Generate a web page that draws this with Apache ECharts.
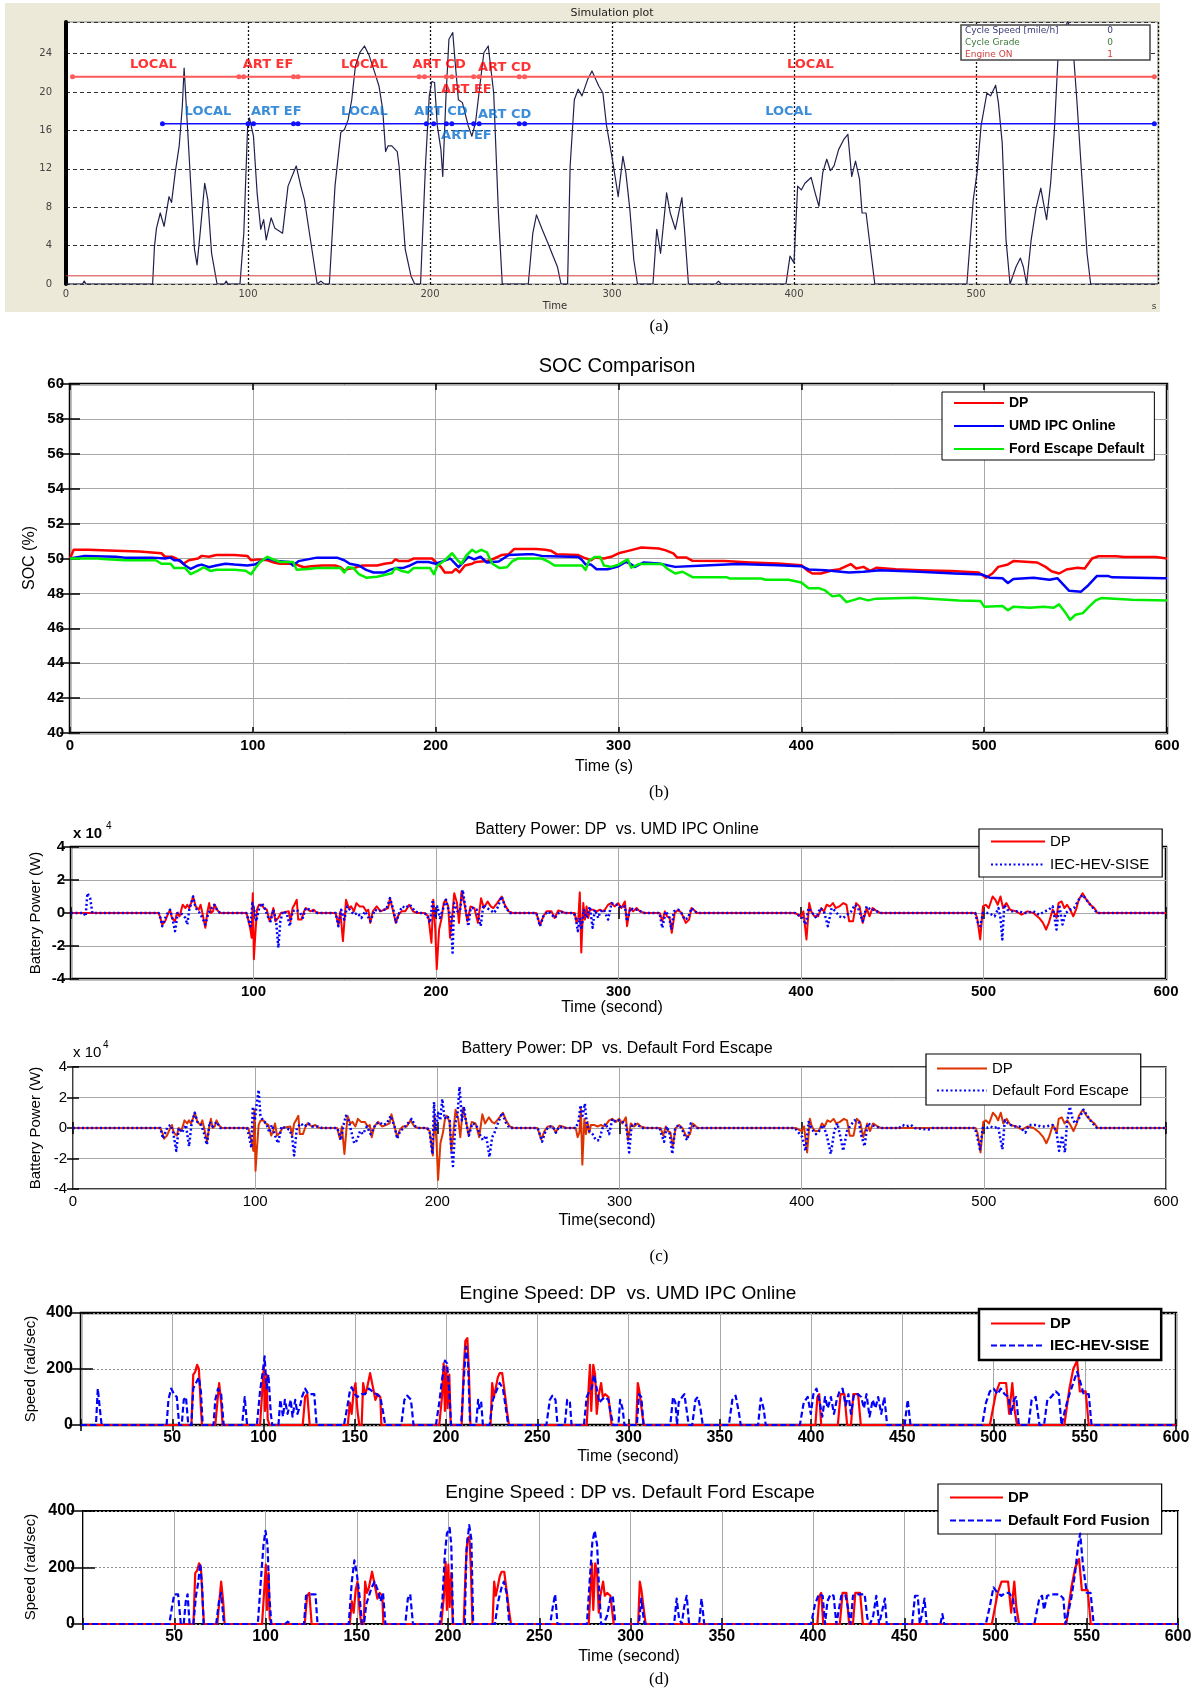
<!DOCTYPE html>
<html><head><meta charset="utf-8">
<script src="https://cdn.jsdelivr.net/npm/echarts@6/dist/echarts.min.js"></script>
<style>html,body{margin:0;padding:0;background:#fff}#c{width:1198px;height:1692px}</style>
</head><body><div id="c"></div>
<script>
// ---------------- (a) Simulation plot: cycle speed [mile/h] vs time [s]
const cycleSpeed = [[0,0],[9,0],[10,0.3],[11,0],[47.6,0],[48.6,3.9],[49.7,5.8],[51.8,7.4],[53.9,6],[56.6,9.1],[58,8.5],[60,11.6],[62.2,14.4],[63.9,18.5],[64.9,22.5],[66.4,17.5],[68.5,10.5],[70.6,3.6],[72,2],[73.7,5.3],[76.2,10.5],[77.9,8.8],[80,3.2],[83,0],[87,0],[88,0.3],[89,0],[95.6,0],[97.7,5.3],[99.8,16.5],[100.8,17.3],[103,15.4],[105,9.5],[107,5.7],[108.6,6.7],[110,4.6],[112.7,6.9],[114.8,5.8],[119,5.3],[122,10.2],[126.5,12.3],[129,10.2],[131,8.8],[134,5],[138,0],[140,0.3],[142,0],[144.7,0],[147.8,10.2],[151,15.8],[153,16.1],[155,17.1],[157,19.2],[159,22.7],[161.4,24.1],[164,24.8],[166.6,23.8],[169.7,22],[172,20.6],[174,18.2],[175.6,13.8],[177,14.4],[179,14.4],[182,13.8],[183,12.3],[186.4,3.6],[189.6,0.8],[191.6,0],[194.8,0],[197.5,12.3],[199.6,19.6],[201,21.1],[202.5,21],[204,16.5],[206,14],[207,11.2],[208.7,19.2],[210.4,25.5],[212.5,26.2],[214,22.7],[215.6,19.2],[217.8,18.9],[221,16.5],[223,15.4],[225,16.8],[227.6,21],[229.6,24.1],[232,24.8],[235,19.9],[237.6,7.4],[239.7,0],[254,0],[256.5,5.3],[258.5,7.2],[261.6,5.7],[264.7,4.3],[267,3.2],[270,1.8],[272,0],[275.6,0],[277,12.3],[279.3,19.2],[281.4,20.3],[283.5,19.6],[286.6,21.3],[289,22.2],[292.8,20.6],[295,19.9],[297,16.5],[300.2,13],[301.7,11.2],[303.4,9.1],[306,13.3],[307.6,11.6],[309.8,7.8],[312,2.5],[314,0],[322.5,0],[324.6,5.7],[326.7,3.2],[330,9.5],[332,7.4],[334.8,5.7],[338.4,9],[340,5.3],[342,0],[357,0],[358.5,0.3],[360,0],[395.6,0],[397.8,2.9],[400,2.2],[402,10.2],[404,9.8],[406,10.5],[409.4,11.1],[411.6,9.5],[413.7,8.1],[415.8,11.6],[418,13],[420,11.8],[422,12.3],[424.5,14],[427.5,15.1],[429.6,15.6],[431.7,11.2],[433.8,12.8],[436,10.9],[437.4,7.4],[439.6,7.4],[442.3,3.2],[444.4,0],[495,0],[498.5,8.8],[500.6,11.6],[502.8,16.5],[506,19.9],[508,19.6],[510.8,20.7],[512.3,18.9],[514.4,14.7],[516.5,4.6],[518.7,0],[522,1.8],[524.4,2.7],[526,1.8],[527.8,0],[530.3,4.6],[532.9,7.8],[535.6,10],[537.7,7.8],[538.8,6.7],[541,10.5],[543,15.8],[545,23.4],[548.4,26.5],[550.5,27.4],[553,25.5],[555.4,19.2],[558,11.6],[561,3.2],[563,0],[600,0]];
const engineOnLevel = 0.85;
const redRowLevel = 21.6;
const blueRowLevel = 16.7;
const redSegTimes = [3.6,95,97.6,125,127.5,194,197,209,212,224,227,249,252,598];
const blueSegTimes = [53,100,103,125,127.5,198,202,209,212,224,227,249,252,598];
const redSegLabels = [[48,22.9,'LOCAL'],[111,22.9,'ART EF'],[164,22.9,'LOCAL'],[205,22.9,'ART CD'],[241,22.5,'ART CD'],[220,20.3,'ART EF'],[409,22.9,'LOCAL']];
const blueSegLabels = [[78,18,'LOCAL'],[115.5,18,'ART EF'],[164,18,'LOCAL'],[206,18,'ART CD'],[241,17.6,'ART CD'],[220,15.45,'ART EF'],[397,18,'LOCAL']];
const legendARows = ['Cycle Speed [mile/h]','Cycle Grade','Engine ON'];
const legendAValues = ['0','0','1'];

// ---------------- (b) SOC comparison [%]
const socDP = [[0,50],[2,50.5],[10,50.5],[11,50.45],[25,50.45],[26,50.4],[38,50.4],[39,50.3],[50,50.3],[52,50.1],[56,50.1],[58,50.0],[62,49.7],[65,49.9],[70,50.0],[72,50.15],[76,50.1],[80,50.2],[90,50.2],[97,50.15],[99,49.9],[100,49.8],[103,49.95],[108,49.9],[112,49.75],[115,49.7],[123,49.7],[125,49.6],[128,49.5],[132,49.55],[138,49.6],[145,49.6],[148,49.5],[150,49.3],[152,49.4],[155,49.45],[160,49.6],[168,49.6],[172,49.7],[176,49.75],[178,49.95],[180,49.85],[185,49.85],[188,50.0],[198,50.0],[200,49.8],[203,49.5],[205,49.2],[209,49.2],[211,49.4],[213,49.2],[216,49.6],[220,49.7],[222,49.8],[228,49.85],[232,50.0],[236,50.2],[240,50.25],[243,50.55],[255,50.55],[260,50.5],[263,50.45],[266,50.25],[278,50.2],[281,50.05],[285,49.9],[287,50.05],[292,50.0],[296,50.1],[300,50.3],[307,50.48],[312.5,50.63],[322,50.57],[325.5,50.48],[330,50.29],[332,50.06],[337,50.06],[340.5,49.87],[358,49.85],[372,49.77],[387,49.71],[400,49.62],[403,49.33],[406,49.14],[410.7,49.14],[417,49.33],[421,49.39],[427,49.68],[430,49.43],[434,49.52],[437.6,49.29],[441,49.47],[451.6,49.39],[464.6,49.33],[482,49.29],[497,49.2],[501,48.9],[504.5,49.14],[507.7,49.52],[513,49.66],[516,49.85],[529,49.77],[533.6,49.52],[536.8,49.27],[541,49.14],[545,49.37],[551,49.47],[555,49.43],[559,50.0],[562.5,50.13],[572,50.13],[576.7,50.08],[594,50.08],[600,50.0]];
const socUMD = [[0,50],[8,50.15],[25,50.1],[30,50.05],[45,50.05],[52,50.0],[55,50.05],[57,49.9],[60,49.9],[63,49.6],[66,49.4],[70,49.6],[72,49.65],[76,49.5],[80,49.6],[85,49.7],[90,49.65],[97,49.6],[101,49.65],[107,50.0],[110,49.95],[113,49.85],[120,49.8],[122,49.6],[125,49.85],[130,49.95],[135,50.05],[146,50.05],[150,49.9],[153,49.7],[158,49.6],[162,49.35],[166,49.2],[172,49.2],[175,49.35],[178,49.45],[182,49.45],[186,49.6],[190,49.8],[196,49.8],[200,49.7],[204,49.85],[208,50.0],[212.5,49.5],[218,50.1],[221,49.95],[224.5,50.1],[228,49.77],[234.5,49.83],[240,50.2],[250,50.25],[253,50.25],[258,50.15],[278,50.08],[280,49.92],[282,49.65],[285,49.65],[288,49.38],[294,49.38],[300,49.56],[304,49.81],[306,49.72],[309,49.52],[313.6,49.77],[322,49.71],[331,49.52],[344,49.58],[365,49.68],[387,49.62],[400,49.56],[404,49.37],[413,49.33],[426,49.2],[434,49.24],[443,49.33],[464.6,49.24],[484,49.14],[499,49.08],[503,48.9],[510,48.87],[513,48.6],[516,48.83],[527,48.9],[535.8,48.78],[540,48.87],[546.5,48.15],[553,48.1],[557,48.47],[561.6,48.99],[568,48.99],[570,48.92],[598,48.87],[600,48.87]];
const socFord = [[0,50],[15,50],[20,49.95],[30,49.9],[47,49.9],[50,49.7],[55,49.7],[57,49.45],[63,49.45],[66,49.1],[70,49.3],[73,49.5],[77,49.28],[80,49.35],[90,49.35],[96,49.3],[99,49.1],[101,49.4],[104,49.8],[108,50.1],[111,49.95],[115,49.8],[122,49.8],[124,49.35],[130,49.4],[135,49.45],[148,49.45],[150,49.2],[152,49.5],[155,49.45],[158,49.1],[162,48.9],[168,48.95],[172,49.05],[176,49.15],[178,49.45],[181,49.3],[185,49.2],[188,49.45],[197,49.45],[199,49.1],[201,49.6],[205,49.9],[209,50.3],[212,49.9],[214,49.7],[217,50.2],[220,50.5],[222,50.35],[225,50.5],[228,50.35],[231,49.7],[235,49.45],[239,49.5],[242,49.85],[245,50.0],[258,50.0],[262,49.8],[265,49.6],[280,49.6],[282,49.35],[284,49.9],[287,50.08],[290,50.08],[292,49.6],[296,49.52],[300,49.65],[305,49.95],[307,49.47],[311,49.68],[324,49.68],[326.5,49.43],[331,49.14],[335,49.24],[340.5,48.93],[359,48.93],[361,48.85],[378,48.85],[380.5,48.78],[393,48.78],[400,48.63],[404,48.3],[409.6,48.3],[413,48.17],[417,47.83],[421,47.9],[424.7,47.5],[432,47.73],[436.5,47.6],[441,47.7],[462,47.75],[486,47.6],[498,47.56],[500,47.24],[510,47.28],[513,47.03],[516,47.24],[525,47.18],[532.6,47.24],[538,47.18],[541,47.37],[544.6,46.87],[547,46.49],[550,46.78],[554,46.87],[557,47.2],[561,47.6],[564,47.73],[581,47.64],[600,47.6]];

// ---------------- (c) Battery power [x 10^4 W]
const powDP = [[0,0],[48,0],[49,-0.3],[50,-0.7],[51.6,-0.5],[53,-0.1],[54.3,0.2],[55.3,-0.3],[57,-0.5],[58,0],[59.5,-0.2],[61.2,0.5],[62.7,0.3],[63.7,0.5],[64.8,0.3],[65.8,0.6],[66.9,1.0],[68.3,0.4],[70,0.2],[71,0.5],[72,0],[73.6,-0.9],[74.8,0.1],[75.7,0.6],[76.7,0],[77.8,0.1],[78.8,0.5],[80,0.2],[81.5,0],[96.2,0],[97.3,-0.5],[98.3,-1.0],[99,-1.5],[99.6,1.2],[100.2,-2.8],[101,-1.3],[101.9,0.2],[103,0.5],[104.6,0.5],[105.7,0.3],[107.3,0.2],[108.8,-0.5],[109.8,-0.2],[110.9,0.3],[112,-0.5],[113.6,-0.3],[115,0],[119.3,0.1],[120.3,-0.5],[121.4,0.3],[122.4,0.5],[123.7,0.8],[124.5,-0.4],[126.2,-0.4],[127.7,0.1],[128.7,0.3],[130,0.2],[131.2,0.1],[133,0.2],[134.2,0.05],[136,0],[145,0],[146.5,-0.7],[147.6,0.1],[149,-1.7],[150.7,0.8],[152.2,0.3],[153.5,0.4],[155,0.1],[156.4,0.6],[158.1,0.4],[160.2,0.4],[161.8,0.1],[162.9,0.2],[164,-0.6],[165.4,0.1],[167.5,0.4],[169.6,0.1],[171.7,0.2],[173.8,0.3],[174.8,0.9],[176.5,0.1],[178,-0.6],[179.5,-0.1],[181.1,0.1],[183.2,0.1],[185.3,0.5],[187.4,0.1],[189.5,0],[193.7,0],[195.8,-0.2],[197.5,-1.8],[198.5,0.8],[199.6,-1.0],[200.4,-3.4],[201.7,-1.0],[203.1,-0.3],[204.2,0.6],[205.2,0.8],[206.7,0.4],[207.7,-1.5],[208.8,-0.3],[210,1.2],[211.5,0.6],[212.6,-0.6],[214,1.3],[215.7,0.5],[217.2,-0.5],[218.9,0.4],[221,0.3],[223,-0.6],[224.7,0.9],[226.2,0.3],[228.3,0.7],[230,0.4],[231.4,0.3],[233.5,0.6],[236,1.0],[237.7,0.5],[239.8,0.1],[241.9,0],[255,0],[257,-0.75],[258.8,-0.2],[260.6,0.1],[263.3,0.1],[265,-0.3],[267,0.15],[268.8,0.1],[270.6,0],[276,0],[277,-0.6],[278,-0.3],[278.8,1.25],[279.6,-2.4],[280.7,0.6],[281.6,-0.4],[282.5,0.4],[283.4,-0.3],[284.3,0.2],[286,0.2],[288,0.1],[289.8,0.2],[291.2,0.1],[292.5,0.2],[294.3,0.5],[296,0.6],[298,0.4],[299.8,0.6],[301.6,0.3],[303.5,0.7],[304.7,-0.8],[306.2,0.3],[308,0.1],[309.9,0.3],[311.7,0.1],[314.4,0],[322.6,0],[324,-0.5],[325.4,0.1],[326.6,-0.2],[328,-0.3],[329.2,-1.2],[330.8,0],[332.7,0.2],[334.5,0],[336.9,-0.6],[338.7,-0.4],[340,0.3],[341.2,0.2],[342.7,0],[396.7,0],[400,-0.2],[401.3,0.1],[403,-1.6],[404.5,0.6],[405.6,0.1],[407.3,-0.2],[409.4,-0.2],[411.1,0.3],[412.6,0.1],[414.1,0.5],[415.8,0.4],[417.5,0.6],[419,0.3],[421,0.4],[423.2,0.6],[424.9,0.5],[426.4,-0.5],[428.5,-0.5],[430.2,0.6],[432.1,0.4],[433.8,-0.6],[436,0.3],[437.5,-0.2],[439.2,0.3],[441.7,0.1],[443.4,0],[495.5,0],[496.5,-0.3],[498.2,-1.6],[499.7,0.4],[501.2,0.5],[502.9,0.3],[505,1.0],[506.5,0.8],[507.8,0.5],[509.3,1.0],[510.7,0.3],[512.5,0.6],[514.6,0.2],[517.8,0.1],[520.9,-0.1],[524.1,0.1],[527.3,0],[530.5,-0.3],[532.6,-0.6],[534.3,-1.0],[535.8,-0.6],[537.9,0.2],[540,-0.3],[541.1,0.6],[542.8,0.7],[544.3,0.3],[545.8,0.5],[547.5,0.2],[549.2,-0.2],[550.7,0.2],[552.2,0.8],[554.3,1.2],[556.4,0.8],[558.6,0.5],[560.7,0.3],[562.4,0],[600,0]];
const powIEC = [[0,0],[7,0],[8,-0.2],[9,1.2],[10.5,0.9],[11.7,0],[48,0],[49,-0.3],[50,-0.8],[51.6,-0.3],[53,0],[54.3,0.2],[55.5,-0.3],[57,-1.1],[58.5,0],[60,0],[61.2,-0.1],[62.7,-0.3],[63.7,-0.7],[64.8,0.2],[66.9,1.0],[68.3,0.3],[70,0.1],[72,-0.3],[73.6,-0.7],[75.3,0],[78.4,0.5],[80.5,0.1],[82,0],[96,0],[96.9,-0.3],[98.3,-0.8],[99.4,0.6],[100.4,0.2],[101.5,-0.5],[103.1,0.3],[104.6,0.6],[106.1,0.3],[107.8,-0.2],[109.4,-0.5],[110.9,0.2],[112.4,-0.5],[113.6,-2.1],[114.7,-0.5],[116.1,0.1],[118.2,0],[119.9,-0.8],[121.4,0.1],[123.5,0.2],[125.6,0],[127,-0.3],[128.7,0.3],[130.8,0.2],[133,0.1],[135,0],[145,0],[146.5,-0.8],[148,0.2],[149.7,-0.4],[151.4,0.4],[152.8,0.2],[155,-0.1],[157,0],[159.1,-0.3],[161.2,0.1],[164,-0.5],[166.5,0.2],[168.6,0.1],[170.7,0.2],[172.7,0.2],[174.8,0.9],[176.9,0.1],[178,-0.6],[180.1,0.1],[181.6,0.4],[183.2,0.3],[185.7,0.5],[188.5,0.1],[190.6,0],[193.5,0],[194.9,-0.1],[196.7,-0.6],[198.2,0.8],[199.5,-0.3],[200.7,0.4],[202.2,-0.3],[204,0.3],[205.5,0.8],[206.8,0.2],[208,-0.2],[209.1,-2.4],[209.9,0.6],[211.7,0.1],[213.1,0.1],[214.6,1.4],[215.9,0.5],[217.7,-0.8],[219,0.3],[220.4,0.3],[222.3,0.2],[224.5,-0.8],[225.9,0.5],[227.7,0.3],[229.6,0.2],[231.8,0],[233.6,0.3],[236,1.0],[237.8,0.4],[240.5,0],[255,0],[257,-0.8],[258.8,-0.2],[261.5,0.1],[265.1,-0.3],[267.9,0.1],[270.6,0],[275.5,0],[276.6,-0.3],[277.7,-1.1],[278.8,-0.3],[279.7,-1.0],[281,0.2],[282.5,-0.3],[284.3,0.4],[285.8,-0.9],[287,0.2],[288.9,-0.3],[290.1,0.1],[292,0.2],[294.3,-0.4],[296.2,0.6],[298,0.5],[299.8,0.5],[301.6,0.3],[303.5,0.4],[304.7,-0.5],[306.6,0.3],[308.4,0.2],[310.8,0.2],[313.5,0],[322.5,0],[324,-0.9],[325.9,0.1],[327.7,-0.2],[329,-1.0],[330.3,0.1],[332.7,0.2],[334.5,0],[336.3,-0.4],[338.1,-0.3],[340,0.3],[341.8,0.1],[343.6,0],[396.7,0],[400.9,-0.3],[402.6,-0.7],[404.1,0.3],[406.2,0],[408.4,-0.3],[410.5,0.3],[412.6,0.1],[414.7,-0.8],[416.8,0.3],[419,0.1],[421,-0.2],[423.2,-0.3],[425.3,-0.1],[427.5,0.1],[429.6,0.5],[431.3,0.3],[433.8,-0.5],[436,0.4],[438.1,0.2],[440.2,0.2],[443,0],[495.5,0],[496.5,-0.5],[498.2,-0.8],[499.7,0],[502.9,0],[506.1,-0.2],[508.2,0.3],[509.3,-0.3],[510.3,-1.6],[511.4,0.5],[513.1,0.2],[515.6,0.1],[518.8,0.1],[523,0],[527.3,0.1],[530.5,-0.1],[533.7,0.1],[535.8,0.2],[537.9,0.4],[540,-1.0],[541.5,0.5],[543.3,-0.7],[545,0],[547.5,0.2],[549.6,0.3],[552.2,0.8],[554.3,1.1],[556.4,0.8],[559.2,0.4],[562.4,0],[600,0]];
const powFord = [[0,0],[48,0],[49.4,-0.7],[52,0.1],[53.6,0.2],[55,-0.3],[56.7,-1.5],[58,0],[59.9,-0.3],[62,0.2],[63.7,-1.2],[65.1,0.3],[66.8,1.0],[68.3,0.4],[70.4,0.2],[71.8,-0.3],[73.5,-1.1],[75,0.4],[76.7,0.1],[78.8,0.4],[80.9,0],[95.5,0],[96.6,-0.5],[97.9,-1.3],[98.7,1.4],[99.8,0.5],[100.8,1.5],[101.9,2.5],[102.9,0.8],[104.2,0.5],[106.1,0.3],[107.8,-0.3],[109.2,0.2],[110.9,-0.5],[112.6,-1.0],[114.5,0.1],[116.6,0],[118.7,-0.1],[120.2,-0.5],[121.4,-1.8],[122.9,0],[125,0.3],[127.1,0.1],[129.2,0.3],[131.3,0.1],[134.5,0.1],[136.6,0],[145,0],[146,-0.3],[147,-0.8],[148.5,0.2],[149.8,0.8],[151.3,0.5],[152.9,-0.3],[154.4,-1.0],[155.9,-0.8],[157.6,-0.2],[159.2,-0.4],[161.3,0.1],[163.4,-0.4],[166,0.2],[168,0.4],[170.2,0.2],[172.3,0.3],[174.4,0.8],[176.5,0.1],[178,-0.7],[179.6,-0.2],[181.7,0],[183.8,0.3],[185.9,0.6],[188,0.1],[190.1,0],[194.5,0],[195.8,-0.3],[197.3,-1.7],[198.2,1.7],[199.1,-0.2],[200.4,1.0],[201.6,0.5],[202.7,1.9],[204,0.6],[205.5,0.8],[206.8,0.5],[207.7,-1.5],[208.6,-2.5],[209.9,0.3],[211,0.8],[212.2,2.7],[213.5,0.5],[214.6,1.4],[215.9,0.3],[217.3,-0.5],[219.2,0.3],[221.4,0.2],[223.2,-0.4],[225,-0.8],[226.8,-0.5],[228.6,-1.9],[230.1,-0.6],[231.4,-0.3],[233.2,0.3],[235.6,1.0],[237.4,0.4],[239.6,0],[255,0],[256,-0.3],[257.5,-0.9],[259.1,-0.3],[261,0.1],[263.3,0.1],[265.1,-0.3],[267,0.1],[269.7,0],[276.1,0],[277.6,0.5],[278.6,1.5],[279.7,0.8],[281,1.6],[282.1,0.2],[283.4,-0.2],[285.2,-0.4],[287,-0.8],[288.9,-0.8],[290.7,0],[292.5,0.3],[294.3,-0.4],[296.1,0.6],[297.9,0.4],[299.8,0.5],[301.6,0.4],[303.5,0.2],[304.4,-0.5],[305.3,-1.6],[306.6,0.1],[308,0.3],[309.9,0.2],[312.6,0],[322,0],[323.2,-0.5],[324.5,-0.9],[325.9,0.1],[327.6,-0.4],[329,-1.7],[330.5,-0.1],[332.3,0.2],[334.1,0],[336,-0.6],[337.2,-0.8],[339.1,0.3],[340.9,0.1],[342.7,0],[396.2,0],[398.3,-0.3],[400.4,-0.6],[402.1,-1.5],[403.8,0.4],[405.7,-0.1],[407.9,-0.4],[409.6,-0.2],[411.7,0.2],[413.6,-0.4],[416,-1.7],[417.9,-0.2],[419.6,0.3],[421.3,-0.6],[422.8,-1.5],[424.9,-0.2],[427,0.2],[429.1,0.5],[431.3,0.4],[432.8,-0.5],[434.5,-1.2],[436.2,0.3],[438.3,0.2],[440.4,0.1],[443,0],[453.6,0],[455.3,0.2],[457.4,0.1],[460,0.2],[462.1,0],[469.6,-0.1],[470.6,-0.2],[471.7,0],[495.1,0],[496.2,-0.5],[497.9,-1.4],[499.4,0],[501.5,0],[503.6,0.1],[505.7,0],[507.9,0.1],[508.9,-0.6],[510.2,-1.4],[511.5,0.5],[513.2,0.3],[516.4,0.1],[519.6,0.1],[522.8,-0.3],[524.9,0.2],[528.1,0.2],[531.3,0.1],[534.5,0.1],[537.7,0.2],[539.8,-0.2],[541.3,-1.5],[543,-0.5],[544.5,-1.6],[545.7,0.4],[547.2,1.4],[548.9,0.5],[550.4,0.3],[552.6,0.7],[554.7,1.2],[556.8,0.8],[559,0.4],[562.1,0],[600,0]];

// ---------------- (d) Engine speed [rad/sec]
const spdDP = [[0,0],[60.5,0],[61.5,180],[62.6,190],[63.6,215],[64.6,200],[65.7,60],[66.3,0],[73.6,0],[74.7,80],[75.7,150],[76.8,80],[77.6,0],[98.1,0],[99.4,130],[100.2,210],[100.8,50],[101.7,180],[102.3,20],[103.3,0],[121.5,0],[122.8,100],[124,110],[125.3,0],[146.2,0],[147.3,80],[148.3,40],[149.4,120],[150.4,150],[151.5,50],[152.5,0],[153.8,0],[154.6,150],[155.6,110],[156.7,130],[158.4,185],[159.8,140],[161.3,90],[162.6,110],[164,100],[164.6,0],[196.3,0],[197.8,100],[198.7,220],[199.4,50],[200.2,210],[200.9,60],[201.8,180],[202.6,0],[208.6,0],[209.7,200],[210.6,300],[211.7,310],[212.5,200],[213.4,0],[224.4,0],[225.3,150],[226.2,100],[227.2,130],[228.4,170],[229.4,185],[230.8,185],[232.1,120],[233.6,40],[234.5,0],[277.1,0],[278.3,150],[278.9,215],[279.6,50],[280.7,215],[281.7,180],[282.6,40],[283.5,100],[285,150],[285.9,100],[287.2,110],[289,100],[289.9,100],[290.8,0],[304.2,0],[305.1,150],[306,120],[307.3,50],[308.3,0],[402.4,0],[403.5,100],[404.5,110],[405.6,0],[414.7,0],[416.2,110],[418.3,110],[419.8,0],[421.9,0],[423.2,110],[425.8,110],[427.3,0],[498,0],[501.2,110],[503.3,150],[506.9,150],[508.6,40],[510.3,150],[511.4,60],[512.9,0],[538.8,0],[541.6,130],[543.7,200],[545.8,230],[547.3,120],[550.5,120],[552.2,0],[600,0]];
const spdIEC = [[0,0],[8.2,0],[9.2,130],[10.3,60],[11.3,0],[46.9,0],[47.9,90],[49.4,130],[51,110],[52.5,100],[53.8,0],[55.2,0],[56.3,90],[57.5,100],[58.8,0],[60.5,0],[61.5,130],[63,150],[64.6,170],[65.7,120],[66.7,0],[72.6,0],[73.6,90],[75.1,130],[76.8,110],[78.2,0],[88.3,0],[89.7,100],[91,0],[96.4,0],[98.1,120],[99.8,200],[100.6,245],[101.7,130],[102.7,180],[104,40],[104.8,0],[108.2,0],[109.2,90],[110.7,30],[111.7,90],[113.2,40],[114.9,90],[115.9,30],[117.4,90],[118.6,40],[120.1,70],[121.1,100],[122.8,130],[124.5,110],[126.4,110],[127.8,110],[129.1,0],[144.1,0],[145.8,60],[147.3,120],[148.3,135],[150,110],[151.5,100],[153.6,110],[155.6,110],[157.7,130],[159.8,120],[161.9,110],[164,100],[165.7,40],[166.7,0],[175.5,0],[177.2,90],[178.7,105],[180.8,90],[182.2,0],[194.5,0],[196.3,80],[197.8,160],[199.4,230],[200.6,220],[201.8,120],[202.8,0],[208.3,0],[209.7,160],[211,280],[212.1,220],[213.2,0],[216.5,0],[217.6,90],[218.3,60],[219.3,80],[220.2,0],[223.9,0],[225.7,90],[227.5,120],[229.4,150],[231.2,130],[233,50],[234.1,0],[255,0],[256.9,90],[258.3,105],[260,90],[261.1,0],[265.1,0],[266.4,90],[267.9,80],[268.8,0],[275.6,0],[277.1,100],[278.5,120],[279.8,130],[281.1,180],[282.6,130],[284,80],[285.3,90],[287.2,100],[289,90],[290.3,40],[291.7,0],[294.5,0],[295.4,90],[296.7,60],[297.8,0],[304.6,0],[305.7,110],[307,100],[308.3,0],[322.9,0],[324.4,100],[325.7,80],[326.6,0],[327.5,80],[329.4,100],[330.6,110],[331.7,60],[333,0],[334.9,0],[336.7,90],[338,100],[339.4,60],[340.7,0],[355,0],[356.9,90],[358.7,105],[360.6,40],[361.5,0],[371,0],[372.5,95],[374,60],[375.2,0],[393.9,0],[396,80],[398.2,100],[399.9,40],[401.3,110],[403,130],[404.5,90],[406.2,30],[407.7,100],[409.2,60],[410.9,100],[412.6,40],[414.1,90],[415.6,120],[417.3,130],[419,70],[420.5,110],[421.9,40],[423.6,110],[425.8,110],[427.5,100],[429,60],[430.4,110],[432.1,30],[433.8,90],[435.3,60],[436.8,100],[438.5,40],[440.2,100],[441.7,0],[451.3,0],[453,90],[454.5,0],[493.8,0],[495.9,80],[498,120],[500.1,130],[502.2,110],[504,130],[506.1,110],[508.2,100],[509.7,40],[511.2,90],[512.4,100],[513.9,0],[519.2,0],[520.9,90],[523.1,100],[525.2,0],[527.7,0],[529.5,90],[531.6,100],[534.1,120],[535.8,110],[537.3,0],[539.4,60],[541.6,110],[543.7,150],[545.8,190],[547.3,160],[549.4,110],[552.2,110],[553.7,0],[600,0]];
const spdFord = [[0,0],[47.3,0],[49,70],[50,105],[52.1,105],[53.6,0],[55.2,0],[56.3,80],[57.3,105],[58.4,0],[60.5,0],[61.9,100],[63.2,150],[64.2,215],[65.3,130],[66.1,0],[73,0],[74.5,80],[75.7,110],[77.2,0],[95.8,0],[97.3,140],[98.9,280],[100,330],[101.1,280],[102.1,100],[103.2,0],[110.7,0],[112.1,8],[113.8,0],[121.1,0],[122.2,100],[124.3,105],[127.4,105],[128.5,0],[145.6,0],[147.3,150],[148.7,225],[150,180],[151.5,100],[152.9,0],[154,0],[155.2,70],[156.7,100],[158.2,130],[159.8,150],[161.5,120],[163,80],[164.4,110],[165.7,0],[176.6,0],[178,90],[179.3,105],[180.8,0],[195.4,0],[196.9,80],[198.2,240],[199.4,320],[200.9,340],[201.8,280],[202.8,0],[209.2,0],[210.1,260],[211.6,350],[212.8,300],[213.8,0],[225.7,0],[227.5,80],[229.4,130],[230.6,150],[232.1,110],[233.6,0],[256,0],[257.4,60],[258.7,105],[260,0],[276.1,0],[277.6,150],[279.1,290],[280.4,330],[281.7,280],[282.6,150],[283.9,0],[285.3,0],[287.2,30],[289,90],[290.3,100],[291.7,0],[304.6,0],[305.9,90],[307,30],[307.7,0],[323.9,0],[325.3,90],[326.6,20],[328.1,0],[329.4,60],[330.8,100],[332.1,0],[337.6,0],[338.9,90],[340.4,0],[398.9,0],[401.1,70],[403.2,105],[405.3,100],[406.6,0],[407.9,80],[409.6,105],[411.3,100],[412.8,0],[413.8,0],[415.5,100],[417.7,105],[419.1,60],[420.6,0],[421.9,100],[424.5,105],[426.6,105],[428.3,105],[429.8,20],[431.3,0],[433,30],[434.7,100],[436.2,0],[437.7,40],[439.4,90],[440.4,0],[454.3,0],[455.9,100],[457.4,100],[458.5,0],[459.6,30],[461.1,90],[462.3,0],[469.8,0],[470.9,35],[471.9,0],[494.7,0],[496.8,60],[498.9,130],[501.1,110],[503.2,100],[505.3,110],[507.4,110],[509.6,90],[511.3,0],[521.3,0],[524,90],[525.5,100],[526.6,50],[528.3,100],[530.9,105],[535.1,105],[537.2,90],[538.3,0],[539.8,40],[541.5,90],[543.6,180],[545.3,280],[546.4,320],[547.9,210],[550,110],[552.1,110],[553.8,0],[600,0]];

// ---------------- rendering
const SANS = '"Liberation Sans", Arial, sans-serif';
const TAH = '"DejaVu Sans", sans-serif';
const SERIF = '"Liberation Serif", "Times New Roman", serif';
const chart = echarts.init(document.getElementById('c'), null, {renderer: 'canvas'});

const grids = [
  {left: 66, top: 22, width: 1092, height: 262, show: true, backgroundColor: '#fff', borderColor: '#8a8a8a', borderWidth: 1},
  {left: 70, top: 384, width: 1097, height: 349, show: true, backgroundColor: '#fff', borderColor: '#000', borderWidth: 2.5},
  {left: 71, top: 847, width: 1095, height: 132, show: true, backgroundColor: 'rgba(0,0,0,0)', borderColor: '#000', borderWidth: 2.5},
  {left: 73, top: 1067, width: 1093, height: 122, show: true, backgroundColor: 'rgba(0,0,0,0)', borderColor: '#000', borderWidth: 1.5},
  {left: 81, top: 1313, width: 1095, height: 112, show: true, backgroundColor: 'rgba(0,0,0,0)', borderColor: '#000', borderWidth: 2.5},
  {left: 83, top: 1511, width: 1095, height: 113, show: true, backgroundColor: 'rgba(0,0,0,0)', borderColor: '#000', borderWidth: 2}
];

const gridLine = {show: true, lineStyle: {color: '#a8a8a8', width: 1}};
function xMain(gi, interval, lbl, hide0) {
  return {type: 'value', gridIndex: gi, min: 0, max: 600, interval: interval,
    axisLine: {show: false},
    axisTick: {show: true, inside: true, length: 6, lineStyle: {color: '#000', width: 1.5}},
    splitLine: gridLine,
    axisLabel: Object.assign({color: '#000', fontFamily: SANS, margin: 5,
      formatter: v => (hide0 && v === 0) ? '' : String(v)}, lbl)};
}
function yMain(gi, min, max, interval, lbl, tickLen, split) {
  return {type: 'value', gridIndex: gi, min: min, max: max, interval: interval,
    axisLine: {show: false},
    axisTick: {show: true, inside: true, length: tickLen, lineStyle: {color: '#000', width: 1.5}},
    splitLine: split || gridLine,
    axisLabel: Object.assign({color: '#000', fontFamily: SANS, margin: 6}, lbl)};
}
function xMirror(gi, interval) {
  return {type: 'value', gridIndex: gi, position: 'top', min: 0, max: 600, interval: interval,
    axisLine: {show: false}, axisLabel: {show: false}, splitLine: {show: false},
    axisTick: {show: true, inside: true, length: 6, lineStyle: {color: '#000', width: 1.5}}};
}
function yMirror(gi, min, max, interval, tickLen) {
  return {type: 'value', gridIndex: gi, position: 'right', min: min, max: max, interval: interval,
    axisLine: {show: false}, axisLabel: {show: false}, splitLine: {show: false},
    axisTick: {show: true, inside: true, length: tickLen, lineStyle: {color: '#000', width: 1.5}}};
}

const xAxes = [
  {type: 'value', gridIndex: 0, min: 0, max: 600, interval: 100,
    axisLine: {show: false}, axisTick: {show: false},
    splitLine: {show: true, lineStyle: {color: '#111', width: 1.3, type: [2, 2]}},
    axisLabel: {color: '#444', fontFamily: TAH, fontSize: 10, margin: 5, formatter: v => v === 600 ? '' : String(v)}},
  xMain(1, 100, {fontSize: 15, fontWeight: 'bold'}, false),
  xMain(2, 100, {fontSize: 15, fontWeight: 'bold'}, true),
  xMain(3, 100, {fontSize: 15}, false),
  xMain(4, 50, {fontSize: 16, fontWeight: 'bold'}, true),
  xMain(5, 50, {fontSize: 16, fontWeight: 'bold'}, true),
  xMirror(1, 100), xMirror(2, 100), xMirror(3, 100), xMirror(4, 50), xMirror(5, 50)
];
const dottedH = {show: true, lineStyle: {color: '#909090', width: 1, type: [2, 2]}};
const yAxes = [
  {type: 'value', gridIndex: 0, min: 0, max: 27.3, interval: 4,
    axisLine: {show: true, lineStyle: {color: '#000', width: 4}}, axisTick: {show: false},
    splitLine: {show: true, lineStyle: {color: '#333', width: 1, type: [4, 3]}},
    axisLabel: {color: '#444', fontFamily: TAH, fontSize: 10, margin: 14, formatter: v => (v % 4 === 0) ? String(v) : ''}},
  yMain(1, 40, 60, 2, {fontSize: 15, fontWeight: 'bold'}, 10),
  yMain(2, -4, 4, 2, {fontSize: 15, fontWeight: 'bold'}, 8),
  yMain(3, -4, 4, 2, {fontSize: 15}, 6),
  yMain(4, 0, 400, 200, {fontSize: 16, fontWeight: 'bold', margin: 8}, 12, dottedH),
  yMain(5, 0, 400, 200, {fontSize: 16, fontWeight: 'bold', margin: 8}, 12, dottedH),
  yMirror(1, 40, 60, 2, 10), yMirror(2, -4, 4, 2, 8), yMirror(3, -4, 4, 2, 6),
  yMirror(4, 0, 400, 200, 12), yMirror(5, 0, 400, 200, 12)
];

function line(name, gi, data, color, width, type, z) {
  return {type: 'line', name: name, xAxisIndex: gi, yAxisIndex: gi, data: data,
    symbol: 'none', showSymbol: false, silent: true, animation: false, z: z || 2,
    lineStyle: {color: color, width: width, type: type || 'solid', join: 'round'},
    itemStyle: {color: color}};
}
function segLine(times, level, color, width) {
  return {type: 'line', xAxisIndex: 0, yAxisIndex: 0, data: times.map(t => [t, level]),
    symbol: 'circle', symbolSize: 5, showSymbol: true, silent: true, animation: false, z: 3,
    lineStyle: {color: color, width: width}, itemStyle: {color: color}};
}
function segText(rows, color) {
  return {type: 'scatter', xAxisIndex: 0, yAxisIndex: 0, data: rows, symbolSize: 0, silent: true, animation: false, z: 5,
    label: {show: true, position: 'inside', formatter: p => p.data[2], color: color,
      fontFamily: TAH, fontWeight: 'bold', fontSize: 13}};
}

const series = [
  line('cycle', 0, cycleSpeed, '#20204f', 1.2, 'solid', 2),
  line('engine', 0, [[0, engineOnLevel], [600, engineOnLevel]], '#d23c3c', 1, 'solid', 2),
  segLine(redSegTimes, redRowLevel, '#ff5a5a', 2),
  segLine(blueSegTimes, blueRowLevel, '#1010ff', 1.5),
  segText(redSegLabels, '#ff0000'),
  segText(blueSegLabels, '#0a6fd0'),
  line('DP', 1, socDP, '#ff0000', 2.5),
  line('UMD IPC Online', 1, socUMD, '#0000ff', 2.5),
  line('Ford Escape Default', 1, socFord, '#00ee00', 2.5),
  line('DP ', 2, powDP, '#ff0000', 2, 'solid', 3),
  line('IEC-HEV-SISE', 2, powIEC, '#0000ff', 2.5, [2, 2.5], 4),
  line('DP  ', 3, powDP, '#dd3300', 2, 'solid', 3),
  line('Default Ford Escape', 3, powFord, '#0000ff', 2.5, [2, 2.5], 4),
  line('DP   ', 4, spdDP, '#ff0000', 2.2, 'solid', 3),
  line('IEC-HEV-SISE ', 4, spdIEC, '#0000ff', 2.2, [6, 3], 4),
  line('DP    ', 5, spdDP, '#ff0000', 2.2, 'solid', 3),
  line('Default Ford Fusion', 5, spdFord, '#0000ff', 2.2, [6, 3], 4)
];

function leg(left, top, pad, iw, gap, names, bw, fs, fw) {
  return {orient: 'vertical', left: left, top: top, padding: pad, itemWidth: iw, itemHeight: 14, itemGap: gap,
    data: names, selectedMode: false, backgroundColor: '#fff', borderColor: '#000', borderWidth: bw,
    itemStyle: {opacity: 0},
    formatter: n => n.trim(),
    textStyle: {fontFamily: SANS, fontSize: fs, fontWeight: fw, color: '#000'}};
}
const legends = [
  leg(942, 392, [4, 10, 4, 11], 50, 9, ['DP', 'UMD IPC Online', 'Ford Escape Default'], 1, 14, 'bold'),
  leg(979, 829, [5, 13, 5, 11], 54, 8, ['DP ', 'IEC-HEV-SISE'], 1.2, 15, 'normal'),
  leg(926, 1054, [7, 12, 7, 10], 50, 7, ['DP  ', 'Default Ford Escape'], 1.2, 15, 'normal'),
  leg(979, 1309, [7, 12, 7, 11], 54, 7, ['DP   ', 'IEC-HEV-SISE '], 2.5, 15, 'bold'),
  leg(938, 1484, [6, 12, 6, 11], 53, 8, ['DP    ', 'Default Ford Fusion'], 1.2, 15, 'bold')
];

function txt(x, y, s, font, opts) {
  return Object.assign({type: 'text', x: x, y: y, silent: true,
    style: Object.assign({text: s, fill: '#000', align: 'center', verticalAlign: 'middle', font: font}, (opts && opts.style) || {})},
    (opts && opts.el) || {});
}
function vtxt(x, y, s, font) {
  return {type: 'text', x: x, y: y, rotation: Math.PI / 2, silent: true,
    style: {text: s, fill: '#000', align: 'center', verticalAlign: 'middle', font: font}};
}
const legendAColors = ['#3a3a7a', '#3d7a3d', '#d04040'];
const graphic = [
  {type: 'rect', z: -10, silent: true, shape: {x: 5, y: 3, width: 1155, height: 309}, style: {fill: '#ece9d8'}},
  txt(612, 13, 'Simulation plot', '11px ' + TAH, {style: {fill: '#222'}}),
  txt(555, 306, 'Time', '10px ' + TAH, {style: {fill: '#333'}}),
  txt(1154, 307, 's', '9px ' + TAH, {style: {fill: '#333'}}),
  {type: 'rect', z: 10, silent: true, shape: {x: 961, y: 25, width: 189, height: 35}, style: {fill: '#fff', stroke: '#444', lineWidth: 1.5}},
  ...legendARows.map((s, i) => txt(965, 31 + 12 * i, s, '9px ' + TAH, {style: {fill: legendAColors[i], align: 'left'}, el: {z: 11}})),
  ...legendAValues.map((s, i) => txt(1110, 31 + 12 * i, s, '9px ' + TAH, {style: {fill: legendAColors[i]}, el: {z: 11}})),
  txt(659, 327, '(a)', '17px ' + SERIF),
  txt(617, 366, 'SOC Comparison', '20px ' + SANS),
  vtxt(30, 558, 'SOC (%)', '16px ' + SANS),
  txt(604, 767, 'Time (s)', '16px ' + SANS),
  txt(659, 793, '(b)', '17px ' + SERIF),
  txt(617, 830, 'Battery Power: DP  vs. UMD IPC Online', '16px ' + SANS),
  txt(73, 834, 'x 10', 'bold 15px ' + SANS, {style: {align: 'left'}}),
  txt(106, 826, '4', '10px ' + SANS, {style: {align: 'left'}}),
  vtxt(36, 913, 'Battery Power (W)', '15px ' + SANS),
  txt(612, 1008, 'Time (second)', '16px ' + SANS),
  txt(617, 1049, 'Battery Power: DP  vs. Default Ford Escape', '16px ' + SANS),
  txt(73, 1053, 'x 10', '15px ' + SANS, {style: {align: 'left'}}),
  txt(103, 1045, '4', '10px ' + SANS, {style: {align: 'left'}}),
  vtxt(36, 1128, 'Battery Power (W)', '15px ' + SANS),
  txt(607, 1221, 'Time(second)', '16px ' + SANS),
  txt(659, 1257, '(c)', '17px ' + SERIF),
  txt(628, 1294, 'Engine Speed: DP  vs. UMD IPC Online', '19px ' + SANS),
  vtxt(31, 1369, 'Speed (rad/sec)', '15px ' + SANS),
  txt(628, 1457, 'Time (second)', '16px ' + SANS),
  txt(630, 1493, 'Engine Speed : DP vs. Default Ford Escape', '19px ' + SANS),
  vtxt(31, 1567, 'Speed (rad/sec)', '15px ' + SANS),
  txt(629, 1657, 'Time (second)', '16px ' + SANS),
  txt(659, 1680, '(d)', '17px ' + SERIF)
];

chart.setOption({
  animation: false,
  backgroundColor: '#fff',
  textStyle: {fontFamily: SANS},
  grid: grids,
  xAxis: xAxes,
  yAxis: yAxes,
  legend: legends,
  series: series,
  graphic: graphic
});
</script></body></html>
